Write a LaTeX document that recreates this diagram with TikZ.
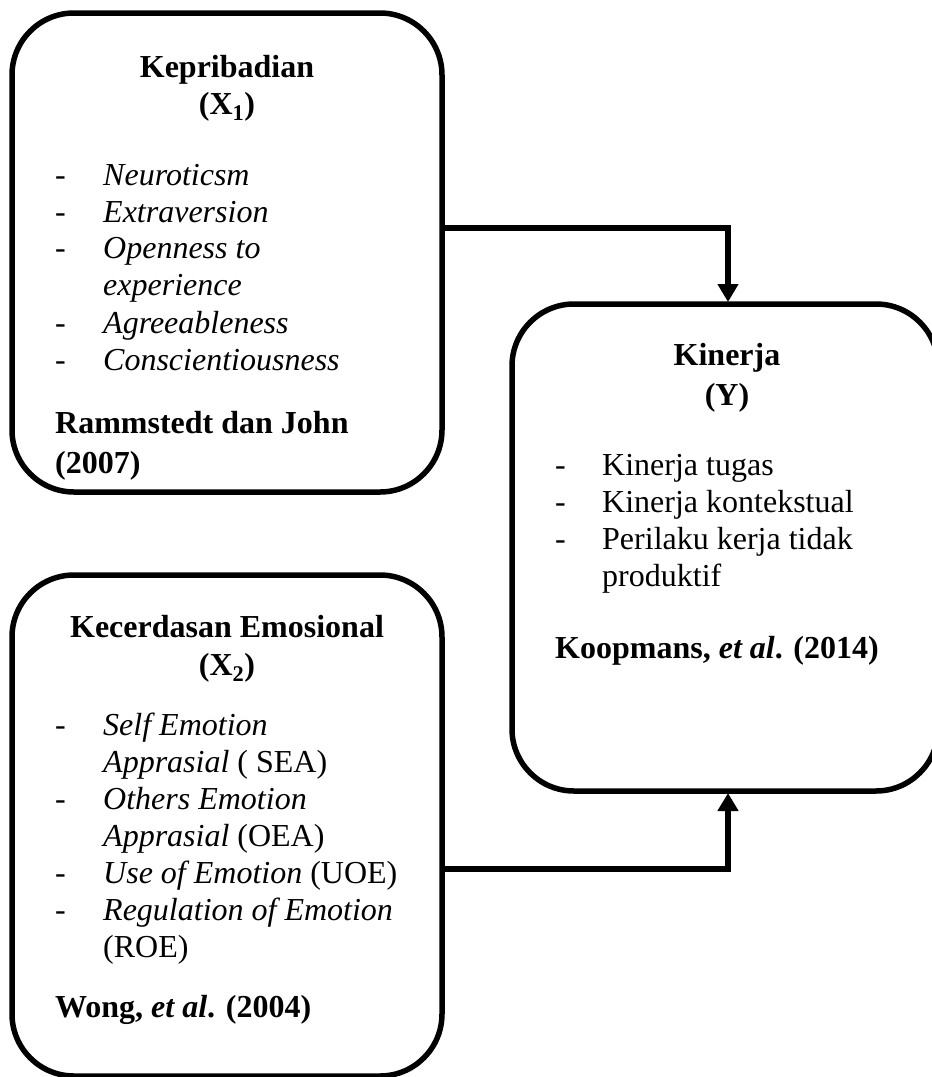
\documentclass[tikz,border=0pt]{standalone}
\usepackage{fontspec}
\setmainfont{Liberation Serif}
\usetikzlibrary{arrows.meta}
\begin{document}
\begin{tikzpicture}[x=1pt,y=-1pt,
  box/.style={draw, line width=5.5pt, rounded corners=62pt, inner sep=0pt, outer sep=0pt},
  conn/.style={line width=5.5pt, -{Triangle[length=18pt,width=20pt]}, shorten >=2pt},
  hd/.style={anchor=base, inner sep=0pt, font=\fontsize{32}{37}\selectfont\bfseries},
  ln/.style={anchor=base west, inner sep=0pt, font=\fontsize{32}{37}\selectfont},
  bl/.style={anchor=base west, inner sep=0pt, font=\fontsize{32}{37}\selectfont\bfseries}
]
\useasboundingbox (0,0) rectangle (932,1077);
\clip (0,0) rectangle (932,1077);

% boxes
\node[box, minimum width=430pt, minimum height=479pt] (b1) at (227,252.5) {};
\node[box, minimum width=426pt, minimum height=487pt] (bY) at (725,547.5) {};
\node[box, minimum width=430pt, minimum height=501pt] (b2) at (227,825.5) {};

% connectors
\coordinate (k1) at (728,228);
\coordinate (k2) at (728,869);
\draw[conn] (b1.east |- k1) -- (k1) -- (k1 |- bY.north);
\draw[conn] (b2.east |- k2) -- (k2) -- (k2 |- bY.south);

% box 1 text
\node[hd] (t1a) at (227,77) {Kepribadian};
\node[hd] (t1b) at (227,114) {(X\textsubscript{1})};
\foreach \y/\n in {185/a,222/b,258/c,333/d,370/e}{
  \node[ln] (d1\n) at (55,\y) {-};
}
\node[ln] (i1a) at (103,185) {\itshape Neuroticsm};
\node[ln] (i1b) at (103,222) {\itshape Extraversion};
\node[ln] (i1c) at (103,258) {\itshape Openness to};
\node[ln] (i1d) at (103,295) {\itshape experience};
\node[ln] (i1e) at (103,333) {\itshape Agreeableness};
\node[ln] (i1f) at (103,370) {\itshape Conscientiousness};
\node[bl] (r1a) at (55,433) {Rammstedt dan John};
\node[bl] (r1b) at (55,473) {(2007)};

% box Y text
\node[hd] (tYa) at (727,365) {Kinerja};
\node[hd] (tYb) at (727,405) {(Y)};
\foreach \y/\n in {475/a,512/b,549/c}{
  \node[ln] (dY\n) at (555,\y) {-};
}
\node[ln] (iYa) at (602,475) {Kinerja tugas};
\node[ln] (iYb) at (602,512) {Kinerja kontekstual};
\node[ln] (iYc) at (602,549) {Perilaku kerja tidak};
\node[ln] (iYd) at (602,586) {produktif};
\node[bl] (rY) at (555,658) {Koopmans, \textit{et al}. (2014)};

% box 2 text
\node[hd] (t2a) at (227,637) {Kecerdasan Emosional};
\node[hd] (t2b) at (227,675) {(X\textsubscript{2})};
\foreach \y/\n in {735/a,809/b,883/c,920/d}{
  \node[ln] (d2\n) at (55,\y) {-};
}
\node[ln] (i2a) at (103,735) {\itshape Self Emotion};
\node[ln] (i2b) at (103,772) {\textit{Apprasial} ( SEA)};
\node[ln] (i2c) at (103,809) {\itshape Others Emotion};
\node[ln] (i2d) at (103,846) {\textit{Apprasial} (OEA)};
\node[ln] (i2e) at (103,883) {\textit{Use of Emotion} (UOE)};
\node[ln] (i2f) at (103,920) {\itshape Regulation of Emotion};
\node[ln] (i2g) at (103,957) {(ROE)};
\node[bl] (r2) at (55,1017) {Wong, \textit{et al}. (2004)};
\end{tikzpicture}
\end{document}
